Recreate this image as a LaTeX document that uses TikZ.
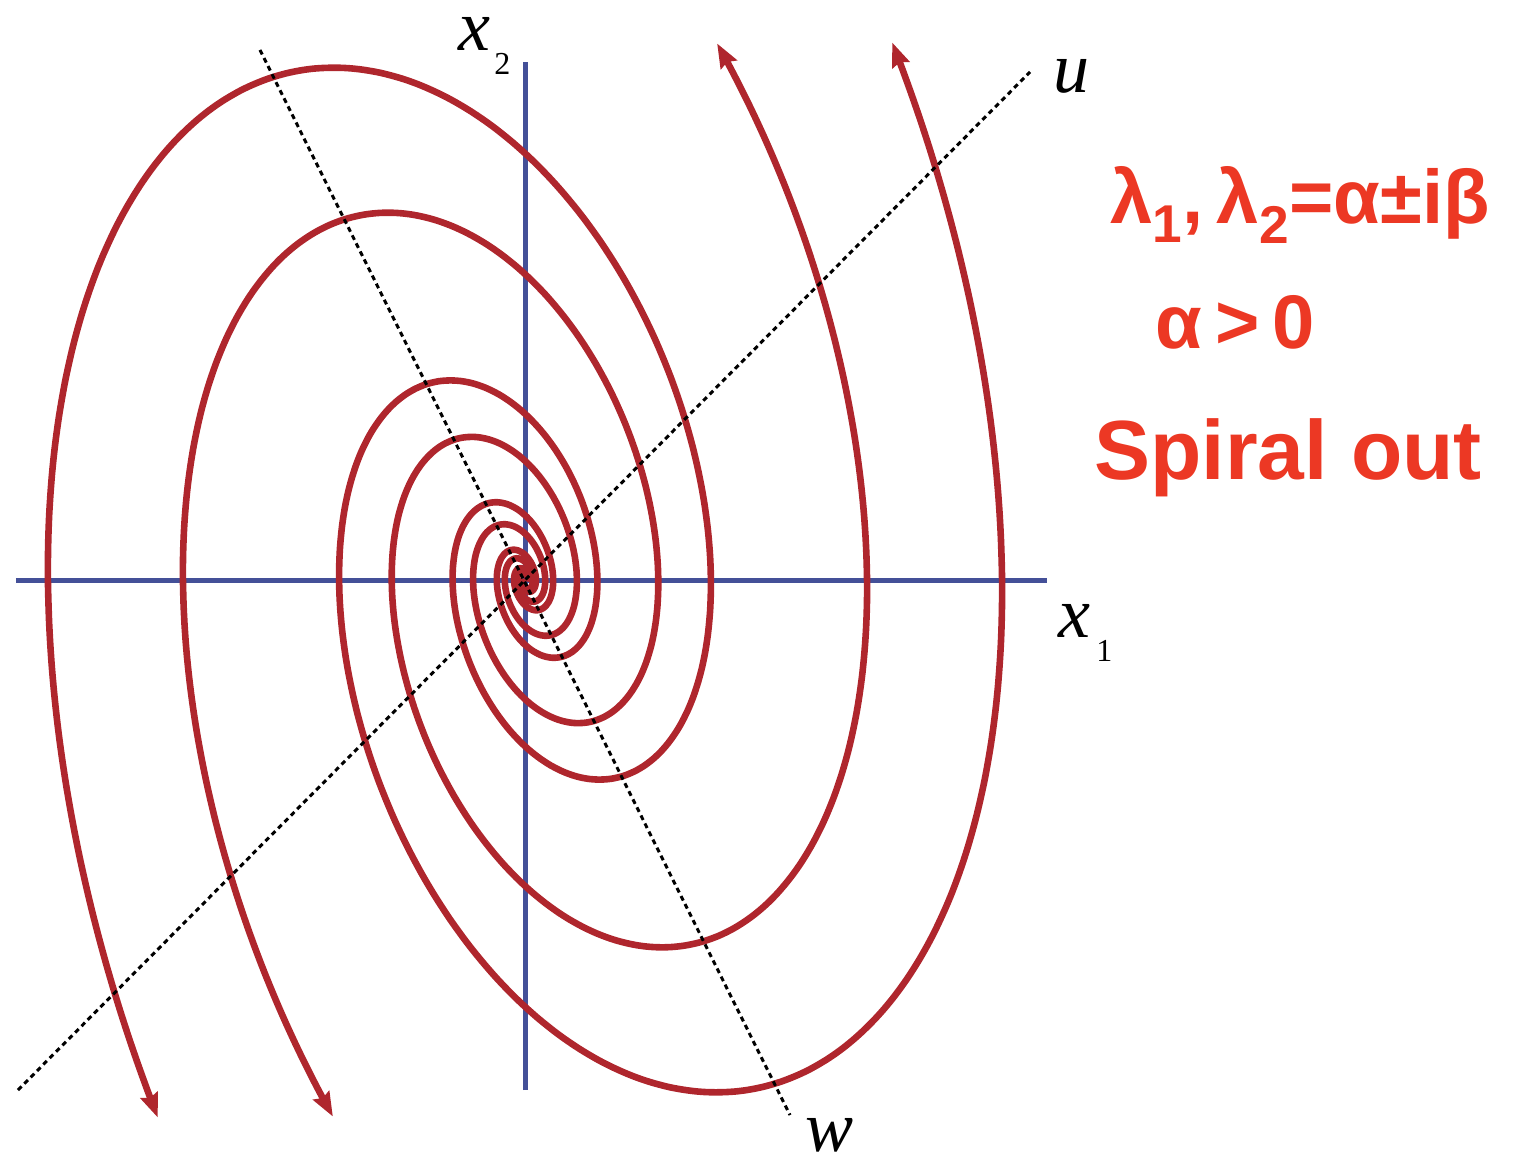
\documentclass[tikz,border=0pt]{standalone}
\usepackage{fontspec}
\setmainfont{Liberation Serif}
\newfontfamily\handfont{Liberation Sans}
\usetikzlibrary{arrows.meta}
\definecolor{trajred}{RGB}{175,38,45}
\definecolor{axisblue}{RGB}{68,80,152}
\definecolor{inkred}{RGB}{236,56,36}

\begin{document}
\begin{tikzpicture}[x=0.5pt, y=0.5pt,
    axis/.style={axisblue, line width=2.5pt},
    eigline/.style={black, line width=1.5pt, dash pattern=on 2.5pt off 2pt},
    traj/.style={trajred, line width=3.3pt, -{Stealth[length=12pt, width=9pt, inset=1.5pt]}},
    lbl/.style={font=\fontsize{36}{40}\selectfont\itshape, inner sep=0pt},
    sub/.style={font=\fontsize{16}{18}\selectfont, inner sep=0pt},
    hand/.style={inkred, font=\handfont\bfseries\fontsize{38}{42}\selectfont, inner sep=0pt}]
  \useasboundingbox (-525,-583) rectangle (993,580);

  % axes and the u, w directions
  \coordinate (xmin) at (-509,0);
  \coordinate (xmax) at (522,0);
  \coordinate (ymin) at (0,-510);
  \coordinate (ymax) at (0,518);
  \coordinate (ustart) at (-507,-510);
  \coordinate (uend) at (505,508);
  \coordinate (wstart) at (-265,530);
  \coordinate (wend) at (265,-535);

  \draw[axis] (xmin) -- (xmax);
  \draw[axis] (ymin) -- (ymax);

  % trajectories: x(t) = k e^{0.3t} (477 cos t - 150 sin t, 785 sin t)
  \foreach \k/\tend in {1/0.61, 0.717/0.838, -1/0.61, -0.717/0.838}{
    \draw[traj] plot[smooth, domain=-16:\tend, samples=600, variable=\t]
      ({\k*exp(0.3*\t)*(477*cos(\t r)-150*sin(\t r))}, {\k*exp(0.3*\t)*785*sin(\t r)});
  }

  \draw[eigline] (ustart) -- (uend);
  \draw[eigline] (wstart) -- (wend);

  \node[lbl, anchor=base west] (xtwo) at (-67,529) {x};
  \node[sub, anchor=base west] (xtwosub) at (-31,505) {2};
  \node[lbl, anchor=base west] (xone) at (533,-57) {x};
  \node[sub, anchor=base west] (xonesub) at (571,-81) {1};
  \node[lbl, anchor=base west] (ulbl) at (528,487) {u};
  \node[lbl, anchor=base west] (wlbl) at (280,-571) {w};

  \node[hand] (eig) at (775,375) {λ\textsubscript{1},\,λ\textsubscript{2}=α±iβ};
  \node[hand] (alpha) at (710,258) {α\,>\,0};
  \node[hand, font=\handfont\bfseries\fontsize{42}{46}\selectfont] (spiral) at (763,122) {Spiral out};
\end{tikzpicture}
\end{document}
